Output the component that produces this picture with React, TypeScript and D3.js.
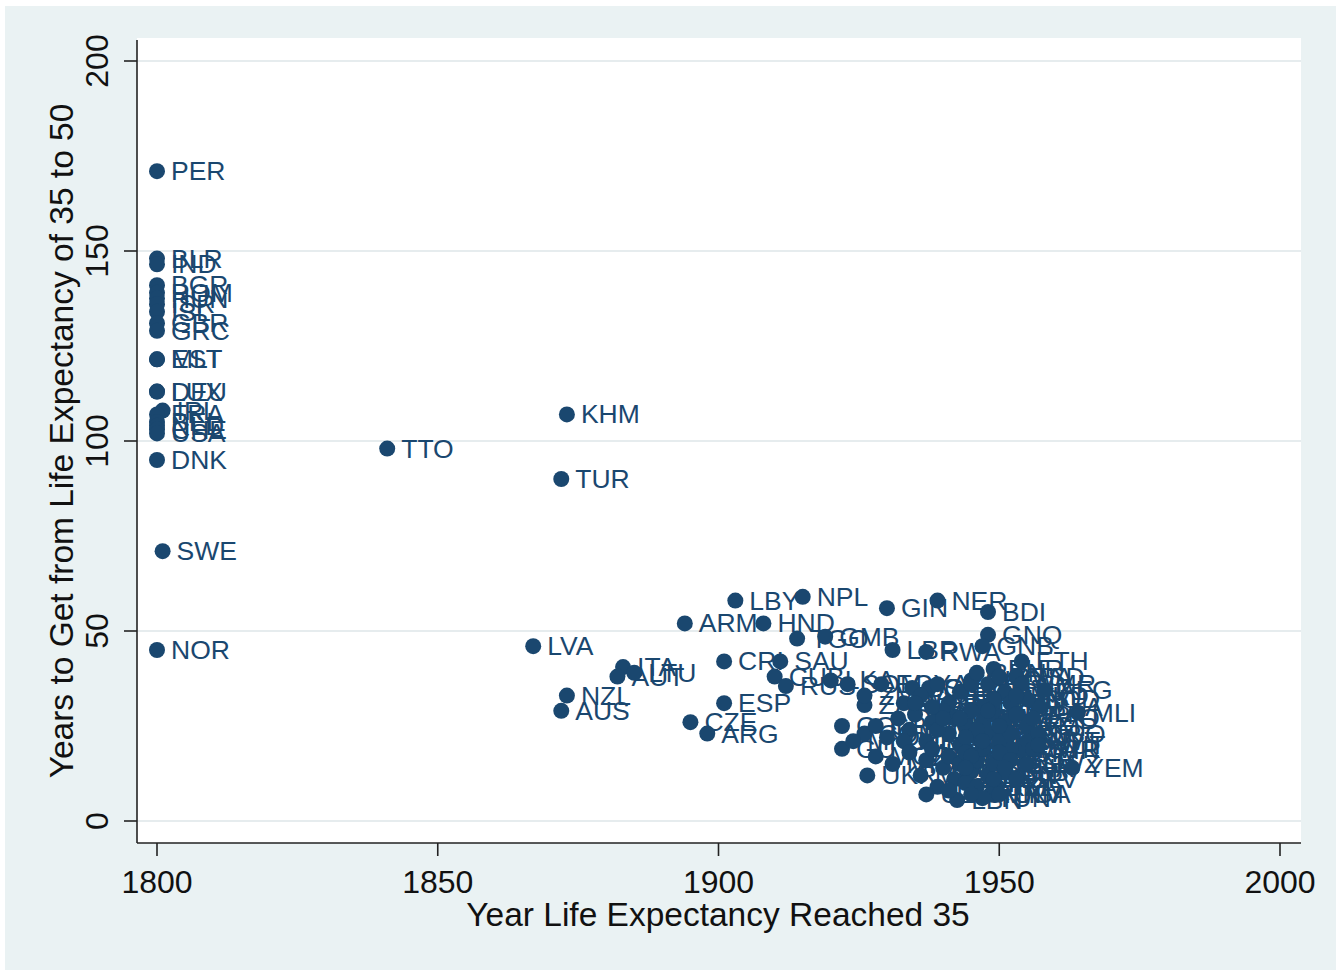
import React from "react";
import * as d3 from "d3";

// Country code, year life expectancy reached 35, years to get from 35 to 50
const countries: string[] = [
  "PER","BLR","IND","BGR","ROM","HUN","ISR","ISL","GBR","GRC","EST","MLT","DEU","LUX","IRL","FRA","BEL","NLD","CHE","USA","DNK","SWE","NOR",
  "TTO","KHM","TUR","LVA","NZL","AUS","ITA","AUT","LTU","ARM","CZE","ARG","LBY","CRI","ESP","HND","CUB","SAU","RUS","TGO","NPL","GMB","LKA","SOM","EGY","GIN","LBR","RWA","NER","BDI","GNQ","GNB","ETH","MLI","YEM","TMP","MMR","MWI","AFG","BFA","UKR","LBN","VNM","ZWE","ZAF","ZMB","GUY",
  "BOL","SRB","HKG","BHR","SSD",
  "ALB","ARE","AZE","BEN","BGD","BIH","BRN","BTN","BWA","CAF","CHN","CIV","CMR","COD","COG",
  "COL","COM","CPV","DJI","DOM","DZA","ECU","ERI","FJI","GAB","GHA","GTM","HTI","IDN","IRN","IRQ","JAM","JOR","KAZ","KEN","KGZ","KOR","PRK","KWT","LAO","LSO","MAR","MDA","MDG","MEX",
  "MNG","MOZ","MRT","MUS","MYS","NAM","NGA","NIC","OMN","PAK","PAN","PHL","PNG","PRY","QAT","SDN","SEN","SGP","SLB","SLE","SLV","SWZ","SYR","TCD","TJK","THA","TKM","TUN","TZA","UGA","URY","UZB","VEN","VUT","MKD","MNE","LCA","KNA",
  "BRB","BHS","BLZ","MAC","TWN","PSE","SUR"
];
const yearReached35: number[] = [
  1800,1800,1800,1800,1800,1800,1800,1800,1800,1800,1800,1800,1800,1800,1801,1800,1800,1800,1800,1800,1800,1801,1800,
  1841,1873,1872,1867,1873,1872,1883,1882,1885,1894,1895,1898,1903,1901,1901,1908,1910,1911,1912,1914,1915,1919,1920,1923,1929,1930,1931,1937,1939,1948,1948,1947,1954,1964,1963,1955,1954,1952,1958,1957,1926.5,1942.5,1948.5,1944,1926,1926,1922,
  1934.5,1937.5,1945,1949,1953,
  1933,1936,1939,1941,1943,1945,1946,1948,1950,1951,1949,1952,1954,1955,1947,
  1922,1926,1928,1930,1932,1934,1935,1937,1938,1940,1941,1942,1943,1944,1945,1946,1947,1948,1949,1950,1951,1952,1953,1955,1956,1957,1946,1944,1939,1933,
  1924,1928,1931,1934,1936,1937,1938,1940,1941,1942,1943,1944,1945,1946,1947,1948,1949,1950,1951,1952,1953,1955,1956,1939,1941,1944,1946,1947,1949,1950,1945,1937,1938,1957,1953,1935,1940,1951,
  1943,1947,1945,1950,1948,1944,1949
];
const yearsTo50: number[] = [
  171,148,146.5,141,139,137.5,136,134,131,129,121.5,121.5,113,113,108,107,105,104,103,102,95,71,45,
  98,107,90,46,33,29,40.5,38,39,52,26,23,58,42,31,52,38,42,35.5,48,59,48.5,37,36,36,56,45,44.5,58,55,49,46,42,28.5,14,24.7,18.7,19,34.5,30,12,5.5,7,11,30.5,33,19,
  35,35,37,40,38,
  31,33,36,31,34,36,39,36,38,34,32,31,36,32,30,
  25,23,25,22,27,24,28,21,26,29,23,27,20,25,29,22,26,23,28,21,26,23,28,21,27,23,24,22,24,21,
  21,17,15,18,12,16,19,14,17,11,15,18,13,16,19,12,15,18,13,16,11,15,19,9,8,10,9,6,9,7,7,7,30,20,33,31,27,14,
  27,21,17,25,29,14,11
];

const xTicks = [1800, 1850, 1900, 1950, 2000];
const yTicks = [0, 50, 100, 150, 200];

const NAVY = "#1a476f";
const BG = "#eaf2f3";
const FONT = "'Liberation Sans', Arial, sans-serif";

export default function App() {
  const x = d3.scaleLinear().domain([1800, 2000]).range([157, 1280]);
  const y = d3.scaleLinear().domain([0, 200]).range([821, 61]);
  const plotL = 137, plotR = 1301, plotT = 38, plotB = 843;

  const pts = countries.map((c, i) => ({ c, yr: yearReached35[i], g: yearsTo50[i] }));

  return (
    <svg width={1336} height={970} style={{ position: "absolute", left: 0, top: 0, display: "block" }}
      fontFamily={FONT}>
      <rect x={0} y={0} width={1336} height={970} fill="#ffffff" />
      <rect x={5} y={6} width={1331} height={964} fill={BG} />
      <rect x={plotL} y={plotT} width={plotR - plotL} height={plotB - plotT} fill="#ffffff" />
      {yTicks.map(t => (
        <line key={"g" + t} x1={plotL} x2={plotR} y1={y(t)} y2={y(t)} stroke="#e6ecee" strokeWidth={2} />
      ))}
      <line x1={plotL} x2={plotL} y1={plotT + 2} y2={plotB} stroke="#222" strokeWidth={1.6} />
      <line x1={plotL} x2={plotR} y1={plotB} y2={plotB} stroke="#222" strokeWidth={1.6} />
      {yTicks.map(t => (
        <g key={"yt" + t}>
          <line x1={plotL - 13} x2={plotL} y1={y(t)} y2={y(t)} stroke="#222" strokeWidth={1.6} />
          <text transform={`translate(108,${y(t)}) rotate(-90)`} textAnchor="middle" fontSize={32} fill="#111">{t}</text>
        </g>
      ))}
      {xTicks.map(t => (
        <g key={"xt" + t}>
          <line x1={x(t)} x2={x(t)} y1={plotB} y2={plotB + 13} stroke="#222" strokeWidth={1.6} />
          <text x={x(t)} y={893} textAnchor="middle" fontSize={32} fill="#111">{t}</text>
        </g>
      ))}
      <text x={718} y={926} textAnchor="middle" fontSize={33.5} fill="#111">Year Life Expectancy Reached 35</text>
      <text transform={`translate(73,441) rotate(-90)`} textAnchor="middle" fontSize={33.5} fill="#111">Years to Get from Life Expectancy of 35 to 50</text>
      {pts.map((p, i) => (
        <g key={"p" + i}>
          <circle cx={x(p.yr)} cy={y(p.g)} r={8} fill={NAVY} />
          <text x={x(p.yr) + 14} y={y(p.g) + 9} fontSize={26.5} fill={NAVY}>{p.c}</text>
        </g>
      ))}
    </svg>
  );
}
